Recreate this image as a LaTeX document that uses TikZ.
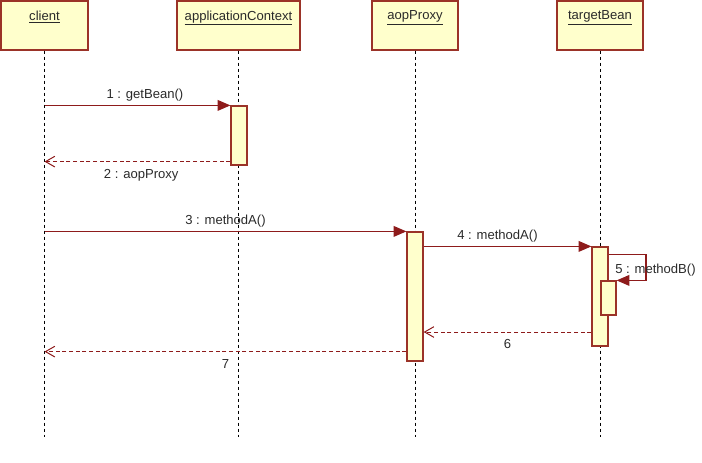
\documentclass[tikz,border=0pt]{standalone}
\usepackage{fontspec}
\setmainfont{Liberation Sans}
\usetikzlibrary{arrows.meta,positioning,fit,calc}
\definecolor{umlLine}{HTML}{8E1B1B}
\definecolor{umlBorder}{HTML}{9B3328}
\definecolor{umlFill}{HTML}{FFFFCC}
\definecolor{umlText}{HTML}{2A2A2A}

\begin{document}
\begin{tikzpicture}[x=0.75pt,y=-0.75pt,
  obj/.style={draw=umlBorder, fill=umlFill, line width=1pt, inner sep=0pt},
  act/.style={draw=umlBorder, fill=umlFill, line width=0.9pt, inner sep=0pt},
  life/.style={black, line width=0.75pt, dash pattern=on 2.5pt off 2pt},
  call/.style={umlLine, line width=0.85pt, -{Triangle[length=9.5pt,width=8pt]}},
  reply/.style={umlLine, line width=0.75pt, dash pattern=on 3pt off 2pt, -{Straight Barb[length=7pt,width=8pt]}},
  lbl/.style={font=\fontsize{9.8}{11}\selectfont, text=umlText, inner sep=1.5pt}]
  \useasboundingbox (0,0) rectangle (702,462);
  \coordinate (bottom) at (0,437);
  \coordinate (loopR) at (646,0);

  % objects
  \node[obj, fit={(1,1) (88,50)}] (client) {};
  \node[obj, fit={(177,1) (300,50)}] (ctx) {};
  \node[obj, fit={(372,1) (458,50)}] (proxy) {};
  \node[obj, fit={(557,1) (643,50)}] (target) {};
  \node[lbl, below=6pt of client.north] (clientName) {\underline{client}};
  \node[lbl, below=6pt of ctx.north] (ctxName) {\underline{applicationContext}};
  \node[lbl, below=6pt of proxy.north] (proxyName) {\underline{aopProxy}};
  \node[lbl, below=6pt of target.north] (targetName) {\underline{targetBean}};

  % lifelines
  \draw[life] (client.south) -- (client.south |- bottom);
  \draw[life] (ctx.south) -- (ctx.south |- bottom);
  \draw[life] (proxy.south) -- (proxy.south |- bottom);
  \draw[life] (target.south) -- (target.south |- bottom);

  % activations
  \node[act, fit={(231,106) (247,165)}] (ctxAct) {};
  \node[act, fit={(407,232) (423,361)}] (proxyAct) {};
  \node[act, fit={(592,247) (608,346)}] (targetAct) {};
  \node[act, fit={(601,281) (616,315)}] (nestAct) {};

  % messages
  \draw[call] (client |- ctxAct.north) -- (ctxAct.north west)
    node[lbl, pos=0.54, above=1.5pt] (m1) {1 : getBean()};
  \draw[reply] ($(ctxAct.south west)+(0,-4)$) -- (client |- {$(ctxAct.south west)+(0,-4)$})
    node[lbl, pos=0.48, below=4pt] (m2) {2 : aopProxy};
  \draw[call] (client |- proxyAct.north) -- (proxyAct.north west)
    node[lbl, midway, above=1.5pt] (m3) {3 : methodA()};
  \draw[call] (proxyAct.east |- targetAct.north) -- (targetAct.north west)
    node[lbl, pos=0.44, above=1.5pt] (m4) {4 : methodA()};
  \draw[call] ($(targetAct.north east)+(0,8)$) -- (loopR |- {$(targetAct.north east)+(0,8)$})
    -- (loopR |- nestAct.north) -- (nestAct.north east);
  \node[lbl, anchor=west] (m5) at (613,270) {5 : methodB()};
  \draw[reply] (targetAct.west |- 0,332) -- (proxyAct.east |- 0,332)
    node[lbl, midway, below=4pt] (m6) {6};
  \draw[reply] ($(proxyAct.south west)+(0,-10)$) -- (client |- {$(proxyAct.south west)+(0,-10)$})
    node[lbl, midway, below=4pt] (m7) {7};
\end{tikzpicture}
\end{document}
